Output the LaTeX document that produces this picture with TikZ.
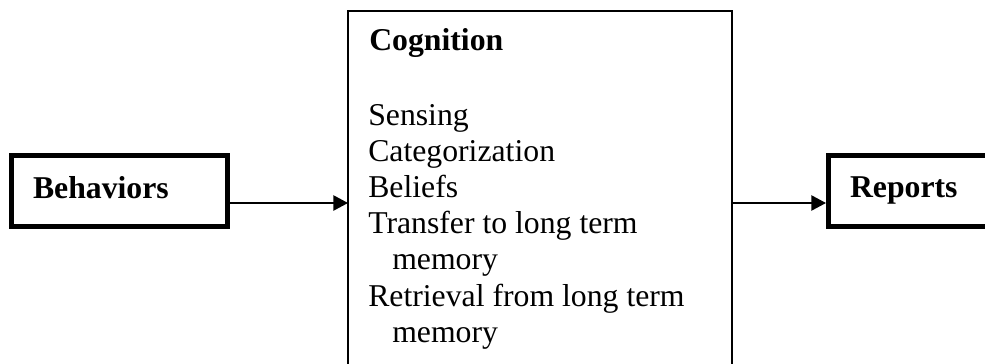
\documentclass[tikz,border=0pt]{standalone}
\usepackage{fontspec}
\setmainfont{Liberation Serif}
\usepackage{tikz}
\usetikzlibrary{positioning,arrows.meta}

\begin{document}
\begin{tikzpicture}[
    x=0.75pt, y=-0.75pt,
    box/.style={rectangle, draw=black, line width=3.75pt, inner xsep=16.125pt, inner ysep=0pt, outer sep=0pt,
        minimum height=53.25pt, text width=129.75pt, align=left, text depth=4.5pt,
        font=\fontsize{23.8}{27}\selectfont\bfseries},
    frame/.style={rectangle, draw=black, line width=1.5pt, inner sep=0pt, outer sep=0pt, anchor=north west},
    item/.style={anchor=base west, inner sep=0pt, font=\fontsize{23.8}{27}\selectfont},
    arr/.style={line width=1.1pt, -{Triangle[length=11pt, width=11.5pt]}}
]
\useasboundingbox (0,0) rectangle (985,364);
\clip (0,0) rectangle (985,364);

% input and output boxes
\node[box] (behav) at (119.5,190.5) {Behaviors};
\node[box] (reports) at (936.5,190.5) {Reports};

% middle box, runs off the bottom
\node[frame, minimum width=288pt, minimum height=300pt] (cog) at (348,11) {};
\node[item, font=\fontsize{23.8}{27}\selectfont\bfseries] (title) at (369,50) {Cognition};
\foreach \line [count=\i from 0] in {Sensing, Categorization, Beliefs, Transfer to long term,
    \hspace*{18pt}memory, Retrieval from long term, \hspace*{18pt}memory}
  \node[item] (item\i) at (368,{125+36.2*\i}) {\line};

% connectors
\coordinate (level) at (0,203);
\draw[arr] (behav.east |- level) -- (cog.west |- level);
\draw[arr, shorten >=1.9pt] (cog.east |- level) -- (reports.west |- level);

\end{tikzpicture}
\end{document}
